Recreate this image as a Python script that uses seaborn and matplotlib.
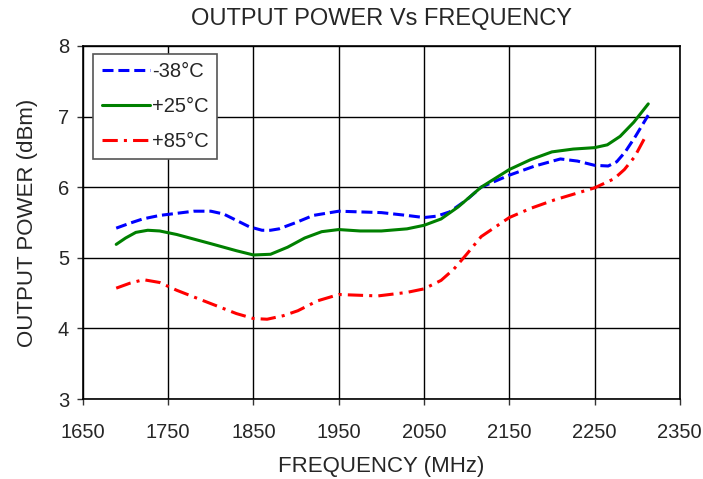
import numpy as np
import pandas as pd
import matplotlib
matplotlib.use("Agg")
import matplotlib.pyplot as plt
import seaborn as sns

# values
freq_m38 = [1689, 1705, 1720, 1740, 1760, 1780, 1800, 1815, 1830, 1845, 1860, 1870, 1880, 1900, 1920, 1950, 2000, 2030, 2050, 2065, 2080, 2100, 2117, 2150, 2180, 2210, 2230, 2250, 2266, 2276, 2286, 2298, 2313]
pwr_m38 = [5.42, 5.49, 5.55, 5.6, 5.63, 5.66, 5.66, 5.62, 5.53, 5.44, 5.39, 5.39, 5.41, 5.5, 5.6, 5.66, 5.64, 5.6, 5.57, 5.59, 5.65, 5.82, 6.0, 6.17, 6.3, 6.4, 6.37, 6.31, 6.3, 6.36, 6.5, 6.72, 7.02]

freq_p25 = [1689, 1700, 1712, 1726, 1740, 1760, 1800, 1830, 1850, 1870, 1890, 1910, 1930, 1950, 1975, 2000, 2030, 2050, 2070, 2090, 2117, 2150, 2175, 2200, 2225, 2250, 2265, 2280, 2296, 2313]
pwr_p25 = [5.19, 5.28, 5.36, 5.39, 5.38, 5.33, 5.2, 5.1, 5.04, 5.05, 5.15, 5.28, 5.37, 5.4, 5.38, 5.38, 5.41, 5.46, 5.55, 5.72, 6.0, 6.25, 6.39, 6.5, 6.54, 6.56, 6.6, 6.72, 6.92, 7.18]

freq_p85 = [1689, 1705, 1721, 1740, 1760, 1796, 1830, 1850, 1866, 1885, 1902, 1925, 1950, 1996, 2030, 2050, 2070, 2085, 2100, 2117, 2150, 2175, 2203, 2250, 2273, 2285, 2297, 2309]
pwr_p85 = [4.57, 4.64, 4.69, 4.65, 4.54, 4.37, 4.21, 4.14, 4.13, 4.18, 4.25, 4.39, 4.48, 4.46, 4.51, 4.56, 4.68, 4.84, 5.05, 5.3, 5.57, 5.7, 5.82, 5.99, 6.12, 6.25, 6.43, 6.7]

sns.set_style("white")
plt.rcParams['font.family'] = ['Liberation Sans', 'DejaVu Sans']

fig = plt.figure(figsize=(7.03, 4.79), dpi=100)
ax = fig.add_axes([0.118, 0.167, 0.849, 0.737])

sns.lineplot(x=freq_m38, y=pwr_m38, ax=ax, color="#0000ff", lw=2.2,
             label="-38°C", sort=False)
ax.lines[-1].set_dashes([3.6, 1.6])
sns.lineplot(x=freq_p25, y=pwr_p25, ax=ax, color="#008000", lw=2.2,
             label="+25°C", sort=False)
sns.lineplot(x=freq_p85, y=pwr_p85, ax=ax, color="#ff0000", lw=2.2,
             label="+85°C", sort=False)
ax.lines[-1].set_dashes([5, 2, 1, 2])

ax.set_xlim(1650, 2350)
ax.set_ylim(3, 8)
ax.set_xticks(np.arange(1650, 2351, 100))
ax.set_yticks(np.arange(3, 9, 1))
ax.grid(True, color="black", lw=1)
for s in ax.spines.values():
    s.set_color("black")
    s.set_linewidth(1.2)
ax.tick_params(labelsize=14.5, length=4, width=1, color="#333333",
               bottom=True, left=True, direction="out")
ax.tick_params(axis="x", pad=13)
ax.tick_params(axis="y", pad=6)

ax.set_title("OUTPUT POWER Vs FREQUENCY", fontsize=17, pad=15)
ax.set_xlabel("FREQUENCY (MHz)", fontsize=16, labelpad=10)
ax.set_ylabel("OUTPUT POWER (dBm)", fontsize=16, labelpad=14)

leg = ax.legend(loc="upper left", bbox_to_anchor=(0.017, 0.978), fontsize=14.5,
                frameon=True, fancybox=False, framealpha=1, edgecolor="#555555",
                handlelength=2.4, handletextpad=0.1, labelspacing=0.78,
                borderpad=0.42, borderaxespad=0)
leg.get_frame().set_linewidth(1.2)

fig.savefig("out.png", dpi=100)
